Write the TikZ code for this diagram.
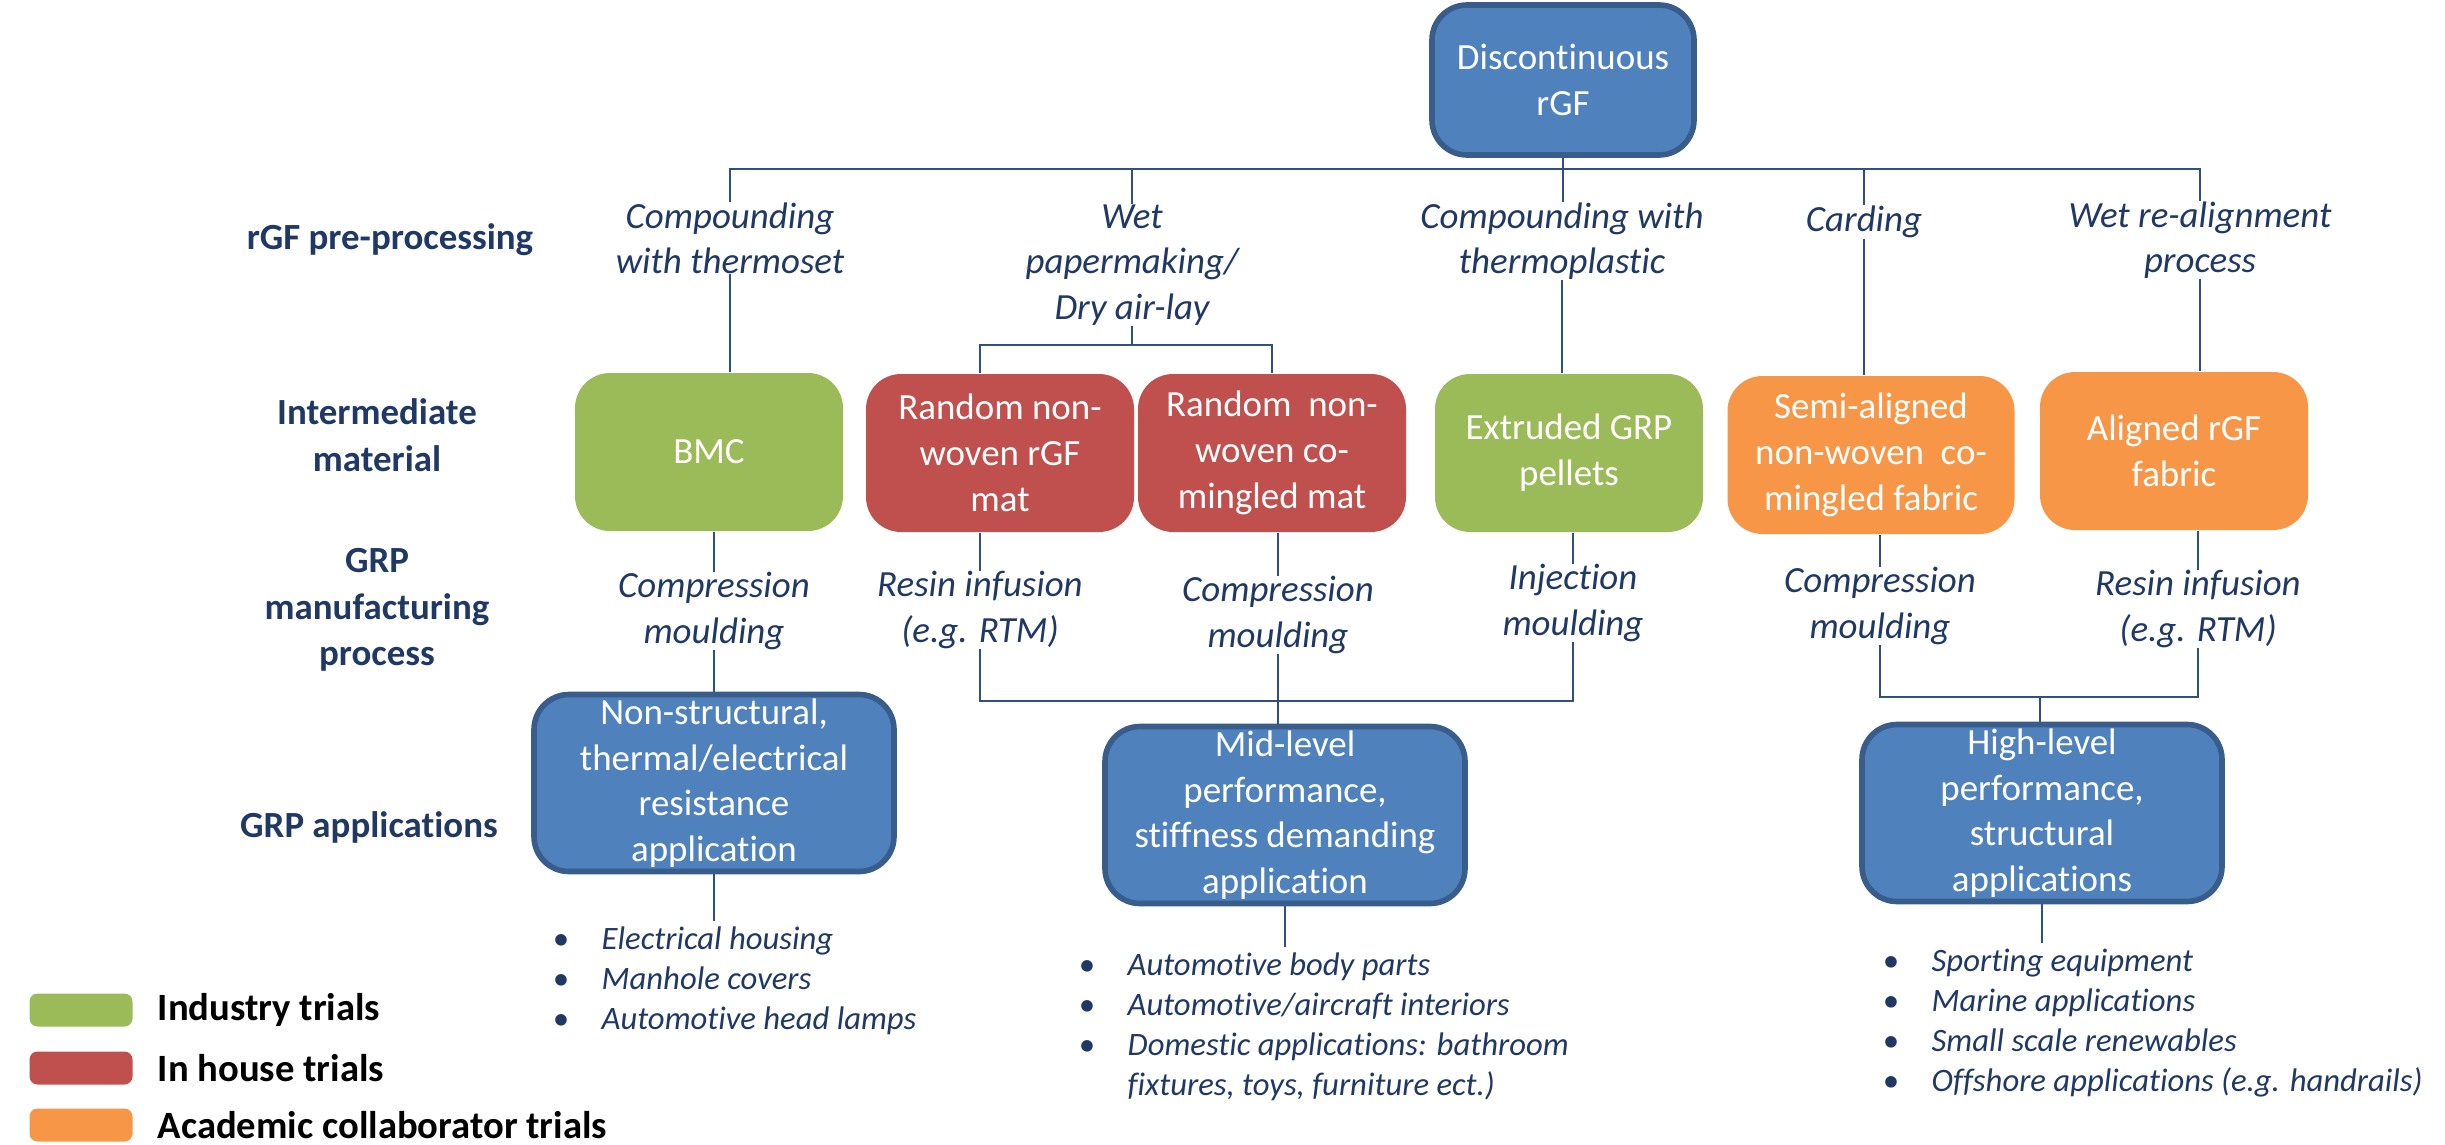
\documentclass[tikz,border=0pt]{standalone}
\usepackage{fontspec}
\setmainfont{Carlito}[Ligatures=NoCommon]

\definecolor{rgfblue}{HTML}{4F81BD}
\definecolor{rgfedge}{HTML}{385D8A}
\definecolor{rgfgreen}{HTML}{9BBB59}
\definecolor{rgfred}{HTML}{C0504D}
\definecolor{rgforange}{HTML}{F79646}
\definecolor{rgfnavy}{HTML}{1F3864}
\definecolor{rgfline}{HTML}{2F4F7F}

\tikzset{
  stage/.style={font=\fontsize{10.5}{13.3}\selectfont\bfseries, text=rgfnavy, align=center, inner sep=0pt},
  route/.style={font=\fontsize{10.5}{12.9}\selectfont\itshape, text=rgfnavy, align=center, inner sep=0pt},
  material/.style={rounded corners=3.5mm, minimum width=26.8mm, minimum height=15.8mm, text=white, align=center, font=\fontsize{10.5}{13}\selectfont, inner sep=1pt},
  usage/.style={material, fill=rgfblue, draw=rgfedge, line width=1.6pt, minimum width=36mm, minimum height=17.7mm},
  uses/.style={font=\fontsize{9.3}{11.4}\selectfont\itshape, text=rgfnavy, anchor=north west, inner sep=0pt},
  key/.style={rounded corners=0.8mm, minimum width=10.3mm, minimum height=3.3mm, inner sep=0pt},
  keytext/.style={font=\fontsize{11}{13}\selectfont\bfseries, anchor=west, inner sep=0pt},
  link/.style={draw=rgfline, line width=0.8pt}
}

\begin{document}
\begin{tikzpicture}[x=0.1mm, y=-0.1mm]
  \useasboundingbox (0,0) rectangle (2445,1145);

  \node[usage, minimum width=26.2mm, minimum height=15mm] (rgf) at (1563,80) {Discontinuous\\rGF};

  \node[stage] (s1) at (390,240) {rGF pre-processing};
  \node[stage] (s2) at (377,435) {Intermediate\\material};
  \node[stage] (s3) at (377,610) {GRP\\manufacturing\\process};
  \node[stage] (s4) at (369,827) {GRP applications};

  \node[route] (p1) at (730,238) {Compounding\\with thermoset};
  \node[route] (p2) at (1132,265) {Wet\\papermaking/\\Dry air-lay};
  \node[route] (p3) at (1562,241) {Compounding with\\thermoplastic};
  \node[route] (p4) at (1864,222) {Carding};
  \node[route] (p5) at (2200,240) {Wet re-alignment\\process};

  \node[material, fill=rgfgreen] (bmc) at (709,452) {BMC};
  \node[material, fill=rgfred] (mat1) at (1000,453) {Random non-\\woven rGF\\mat};
  \node[material, fill=rgfred] (mat2) at (1272,453) {Random~\ non-\\woven co-\\mingled mat};
  \node[material, fill=rgfgreen] (pel) at (1569,453) {Extruded GRP\\pellets};
  \node[material, fill=rgforange, minimum width=28.7mm] (semi) at (1871,455) {Semi-aligned\\non-woven~ co-\\mingled fabric};
  \node[material, fill=rgforange] (fab) at (2174,451) {Aligned rGF\\fabric};

  \node[route] (m1) at (714,611) {Compression\\moulding};
  \node[route] (m2) at (980,610) {Resin infusion\\(e.g. RTM)};
  \node[route] (m3) at (1278,615) {Compression\\moulding};
  \node[route] (m4) at (1573,603) {Injection\\moulding};
  \node[route] (m5) at (1880,606) {Compression\\moulding};
  \node[route] (m6) at (2198,609) {Resin infusion\\(e.g. RTM)};

  \node[usage] (low) at (714,783) {Non-structural,\\thermal/electrical\\resistance\\application};
  \node[usage] (mid) at (1285,815) {Mid-level\\performance,\\stiffness demanding\\application};
  \node[usage] (high) at (2042,813) {High-level\\performance,\\structural\\applications};

  \node[uses] (u1) at (552,921) {\begin{tabular}{@{}p{4.9mm}@{}l@{}}
    \textbullet & Electrical housing\\
    \textbullet & Manhole covers\\
    \textbullet & Automotive head lamps
  \end{tabular}};
  \node[uses] (u2) at (1078,947) {\begin{tabular}{@{}p{4.9mm}@{}l@{}}
    \textbullet & Automotive body parts\\
    \textbullet & Automotive/aircraft interiors\\
    \textbullet & Domestic applications: bathroom\\
                & fixtures, toys, furniture ect.)
  \end{tabular}};
  \node[uses] (u3) at (1882,943) {\begin{tabular}{@{}p{4.9mm}@{}l@{}}
    \textbullet & Sporting equipment\\
    \textbullet & Marine applications\\
    \textbullet & Small scale renewables\\
    \textbullet & Offshore applications (e.g. handrails)
  \end{tabular}};

  \node[key, fill=rgfgreen] (k1) at (81,1010) {};
  \node[key, fill=rgfred] (k2) at (81,1068) {};
  \node[key, fill=rgforange] (k3) at (81,1125) {};
  \node[keytext] (t1) at (157,1010) {Industry trials};
  \node[keytext] (t2) at (157,1068) {In house trials};
  \node[keytext] (t3) at (157,1125) {Academic collaborator trials};

  \coordinate (bus) at (1563,169);
  \coordinate (wet) at (1132,345);
  \coordinate (midj) at (1276,701);
  \coordinate (highj) at (2040,697);

  \begin{scope}[link]
    \draw (p1.north) |- (bus) -| (p5.north);
    \draw (rgf.south) -- (rgf.south |- p3.north);
    \draw (p2.north |- bus) -- (p2.north);
    \draw (p4.north |- bus) -- (p4.north);

    \draw (p1.south) -- (p1.south |- bmc.north);
    \draw (p2.south) -- (wet);
    \draw (mat1.north -| m2.north) |- (wet) -| (mat2.north);
    \draw (p3.south) -- (p3.south |- pel.north);
    \draw (p4.south) -- (p4.south |- semi.north);
    \draw (p5.south) -- (p5.south |- fab.north);

    \draw (m1.north |- bmc.south) -- (m1.north);
    \draw (m2.north |- mat1.south) -- (m2.north);
    \draw (m3.north |- mat2.south) -- (m3.north);
    \draw (m4.north |- pel.south) -- (m4.north);
    \draw (m5.north |- semi.south) -- (m5.north);
    \draw (m6.north |- fab.south) -- (m6.north);

    \draw (m1.south) -- (m1.south |- low.north);
    \draw (m2.south) |- (midj) -| (m4.south);
    \draw (m3.south) -- (m3.south |- mid.north);
    \draw (m5.south) |- (highj) -| (m6.south);
    \draw (highj) -- (highj |- high.north);

    \draw (low.south) -- (low.south |- u1.north);
    \draw (mid.south) -- (mid.south |- u2.north);
    \draw (high.south) -- (high.south |- u3.north);
  \end{scope}
\end{tikzpicture}
\end{document}
